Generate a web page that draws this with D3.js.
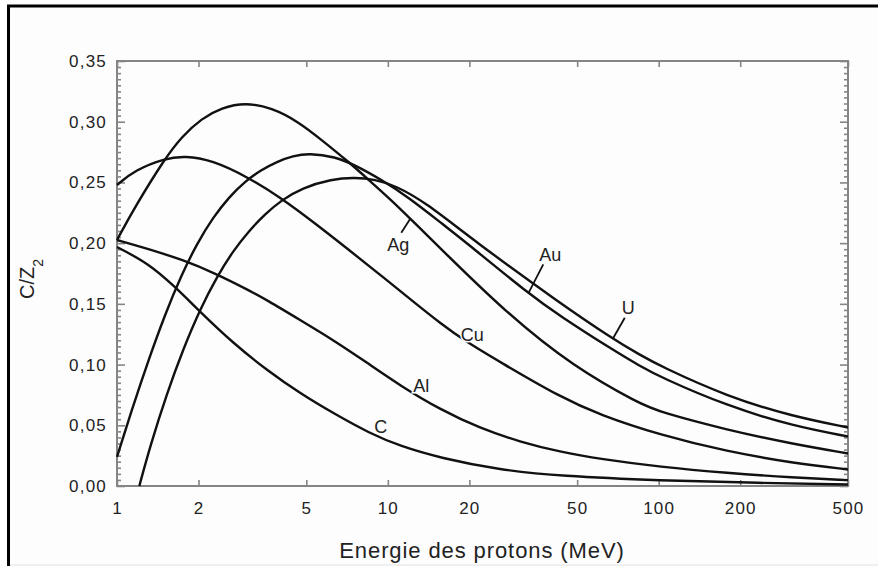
<!DOCTYPE html>
<html>
<head>
<meta charset="utf-8">
<script src="https://cdn.jsdelivr.net/npm/d3@7"></script>
<style>
  html, body { margin: 0; padding: 0; background: #fff; }
  svg { display: block; }
  text { font-family: "Liberation Sans", Arial, Helvetica, sans-serif; }
</style>
</head>
<body>
<svg id="chart" width="878" height="566"></svg>
<script>
// Tick values
const energyTicks = [1, 2, 5, 10, 20, 50, 100, 200, 500];
const ratioTicks = [0, 0.05, 0.10, 0.15, 0.20, 0.25, 0.30, 0.35];

// Shell correction C/Z2 versus proton energy (MeV), one array per target
const curveC = [[1, 0.1968], [1.305, 0.1834], [1.637, 0.1641], [2.025, 0.1435], [2.688, 0.1175],
  [3.572, 0.0955], [4.741, 0.0763], [6.291, 0.0599], [8.596, 0.0432], [11.09, 0.0329],
  [15.59, 0.0231], [25.96, 0.0132], [43.24, 0.0082], [101.2, 0.0045], [236.8, 0.0025], [500, 0.0012]];

const curveAl = [[1, 0.2026], [1.324, 0.1948], [1.757, 0.1861], [2.301, 0.1752], [3.054, 0.1614],
  [3.572, 0.1532], [4.741, 0.1367], [6.291, 0.1202], [8.357, 0.1017], [11.09, 0.0828],
  [15.59, 0.0630], [21.90, 0.0475], [30.77, 0.0363], [43.24, 0.0281], [60.76, 0.0222],
  [101.2, 0.0157], [178.9, 0.0107], [313.5, 0.0070], [500, 0.0048]];

const curveCu = [[1, 0.2479], [1.166, 0.2602], [1.504, 0.2699], [1.783, 0.2718], [2.237, 0.2685],
  [3.054, 0.2542], [4.057, 0.2369], [5.384, 0.2163], [7.147, 0.1948], [9.495, 0.1729],
  [12.60, 0.1507], [15.59, 0.1342], [19.27, 0.1194], [25.96, 0.1021], [43.24, 0.0733],
  [60.76, 0.0585], [101.2, 0.0420], [178.9, 0.0284], [313.5, 0.0189], [500, 0.0136]];

const curveAg = [[1, 0.2026], [1.166, 0.2300], [1.504, 0.2699], [1.734, 0.2877], [2.055, 0.3028],
  [2.435, 0.3115], [2.970, 0.3158], [3.727, 0.3115], [4.673, 0.3000], [5.701, 0.2849],
  [7.147, 0.2671], [8.472, 0.2524], [10.34, 0.2351], [12.60, 0.2163], [15.59, 0.1960],
  [27.48, 0.1422], [48.42, 0.0982], [85.36, 0.0675], [101.2, 0.0609], [178.9, 0.0461],
  [313.5, 0.0346], [500, 0.0268]];

const curveAu = [[1, 0.0239], [1.146, 0.0659], [1.313, 0.1050], [1.504, 0.1412], [1.723, 0.1729],
  [1.974, 0.1997], [2.262, 0.2211], [2.593, 0.2380], [2.970, 0.2508], [3.402, 0.2602],
  [3.898, 0.2672], [4.467, 0.2718], [5.118, 0.2740], [6.383, 0.2712], [7.566, 0.2643],
  [9.495, 0.2520], [11.88, 0.2380], [16.26, 0.2141], [18.95, 0.2026], [32.94, 0.1587],
  [43.24, 0.1400], [67.86, 0.1120], [85.36, 0.0988], [101.2, 0.0898], [178.9, 0.0659],
  [313.5, 0.0494], [500, 0.0408]];

const curveU = [[1.209, 0], [1.324, 0.0325], [1.526, 0.0758], [1.753, 0.1124], [2.025, 0.1454],
  [2.335, 0.1721], [2.682, 0.1935], [3.054, 0.2095], [3.520, 0.2240], [4.057, 0.2355],
  [4.809, 0.2454], [6.206, 0.2528], [7.566, 0.2542], [8.969, 0.2524], [10.63, 0.2475],
  [13.72, 0.2339], [20.63, 0.2026], [43.24, 0.1505], [67.86, 0.1211], [85.36, 0.1079],
  [101.2, 0.0988], [178.9, 0.0737], [313.5, 0.0572], [500, 0.0482]];

const elementNames = ["C", "Al", "Cu", "Ag", "Au", "U"];
const elementCurves = [curveC, curveAl, curveCu, curveAg, curveAu, curveU];

// Where each element name is attached to its curve (energy in MeV), with offsets in px
const labelSpots = [
  { name: "Ag", energy: 12.1, pointer: [-9, 14], text: [-12, 32] },
  { name: "Au", energy: 33.0, pointer: [15, -29], text: [22, -32] },
  { name: "U",  energy: 67.7, pointer: [12, -21], text: [15.5, -25] },
  { name: "Cu", energy: 19.3, pointer: null, text: [7, 0] },
  { name: "Al", energy: 12.3, pointer: null, text: [9, -1] },
  { name: "C",  energy: 8.76, pointer: null, text: [8.5, -1.5] }
];

const W = 878, H = 566;
const plot = { left: 117, top: 61, right: 848, bottom: 486 };
const axisGrey = "#858585";
const inkColor = "#222";

const svg = d3.select("#chart");

// page frame
svg.append("rect").attr("x", 0).attr("y", 0).attr("width", W).attr("height", H).attr("fill", "#fff");
svg.append("rect")
  .attr("x", 8.5).attr("y", 6).attr("width", 900).attr("height", 620)
  .attr("fill", "#fdfdfd").attr("stroke", "#000").attr("stroke-width", 3);
svg.append("line")
  .attr("x1", 10).attr("x2", W).attr("y1", 565).attr("y2", 565)
  .attr("stroke", "#e2e2e2").attr("stroke-width", 1);

const x = d3.scaleLog().domain([1, 500]).range([plot.left, plot.right]);
const y = d3.scaleLinear().domain([0, 0.35]).range([plot.bottom, plot.top]);

const minorRatio = d3.range(0, 71).map(i => i * 0.005).filter(v => Math.round(v * 1000) % 50 !== 0);
const fmtRatio = d => d3.format(".2f")(d).replace(".", ",");

function styleAxis(g, showText) {
  g.select(".domain").remove();
  g.selectAll(".tick line").attr("stroke", axisGrey).attr("stroke-width", 1.6);
  if (showText) {
    g.selectAll(".tick text")
      .attr("fill", inkColor)
      .style("font-size", "17px")
      .style("letter-spacing", "1.2px");
  } else {
    g.selectAll(".tick text").remove();
  }
}

// bottom and top axes
svg.append("g").attr("transform", `translate(0,${plot.bottom})`)
  .call(d3.axisBottom(x).tickValues(energyTicks).tickFormat(d3.format("d"))
    .tickSizeInner(-6).tickSizeOuter(0).tickPadding(16))
  .call(g => styleAxis(g, true));
svg.append("g").attr("transform", `translate(0,${plot.top})`)
  .call(d3.axisTop(x).tickValues(energyTicks).tickSizeInner(-6).tickSizeOuter(0))
  .call(g => styleAxis(g, false));

// left and right axes, major then minor ticks
svg.append("g").attr("transform", `translate(${plot.left},0)`)
  .call(d3.axisLeft(y).tickValues(ratioTicks).tickFormat(fmtRatio)
    .tickSizeInner(-8).tickSizeOuter(0).tickPadding(10))
  .call(g => styleAxis(g, true));
svg.append("g").attr("transform", `translate(${plot.left},0)`)
  .call(d3.axisLeft(y).tickValues(minorRatio).tickSizeInner(-4).tickSizeOuter(0))
  .call(g => styleAxis(g, false));
svg.append("g").attr("transform", `translate(${plot.right},0)`)
  .call(d3.axisRight(y).tickValues(ratioTicks).tickSizeInner(-8).tickSizeOuter(0))
  .call(g => styleAxis(g, false));
svg.append("g").attr("transform", `translate(${plot.right},0)`)
  .call(d3.axisRight(y).tickValues(minorRatio).tickSizeInner(-4).tickSizeOuter(0))
  .call(g => styleAxis(g, false));

// plot frame
svg.append("rect")
  .attr("x", plot.left).attr("y", plot.top)
  .attr("width", plot.right - plot.left).attr("height", plot.bottom - plot.top)
  .attr("fill", "none").attr("stroke", axisGrey).attr("stroke-width", 2);

// curves
const line = d3.line()
  .x(d => x(d[0]))
  .y(d => y(d[1]))
  .curve(d3.curveBasis);

svg.append("g")
  .selectAll("path")
  .data(elementCurves)
  .join("path")
  .attr("d", line)
  .attr("fill", "none")
  .attr("stroke", "#111")
  .attr("stroke-width", 2.4)
  .attr("stroke-linejoin", "round");

// value of a curve at a given energy (linear in log energy)
function valueAt(series, e) {
  for (let i = 0; i < series.length - 1; i++) {
    const [e0, v0] = series[i], [e1, v1] = series[i + 1];
    if (e >= e0 && e <= e1) {
      const t = (Math.log(e) - Math.log(e0)) / (Math.log(e1) - Math.log(e0));
      return v0 + t * (v1 - v0);
    }
  }
  return series[series.length - 1][1];
}

// element labels
const labelLayer = svg.append("g");
labelSpots.forEach(spot => {
  const series = elementCurves[elementNames.indexOf(spot.name)];
  const px = x(spot.energy), py = y(valueAt(series, spot.energy));
  if (spot.pointer) {
    labelLayer.append("line")
      .attr("x1", px).attr("y1", py)
      .attr("x2", px + spot.pointer[0]).attr("y2", py + spot.pointer[1])
      .attr("stroke", "#111").attr("stroke-width", 1.8);
  }
  labelLayer.append("text")
    .attr("x", px + spot.text[0]).attr("y", py + spot.text[1])
    .attr("text-anchor", "middle")
    .attr("fill", inkColor)
    .attr("stroke", spot.pointer ? "none" : "#fdfdfd")
    .attr("stroke-width", 3)
    .attr("paint-order", "stroke")
    .style("font-size", "18px")
    .text(spot.name);
});

// axis titles
svg.append("text")
  .attr("x", 482).attr("y", 558)
  .attr("text-anchor", "middle")
  .attr("fill", inkColor)
  .style("font-size", "22px")
  .style("letter-spacing", "0.9px")
  .text("Energie des protons (MeV)");

const yTitle = svg.append("text")
  .attr("transform", "translate(34,279) rotate(-90)")
  .attr("text-anchor", "middle")
  .attr("fill", inkColor)
  .style("font-size", "20px");
yTitle.append("tspan").text("C/Z");
yTitle.append("tspan").attr("dy", 9).style("font-size", "14px").text("2");
</script>
</body>
</html>
